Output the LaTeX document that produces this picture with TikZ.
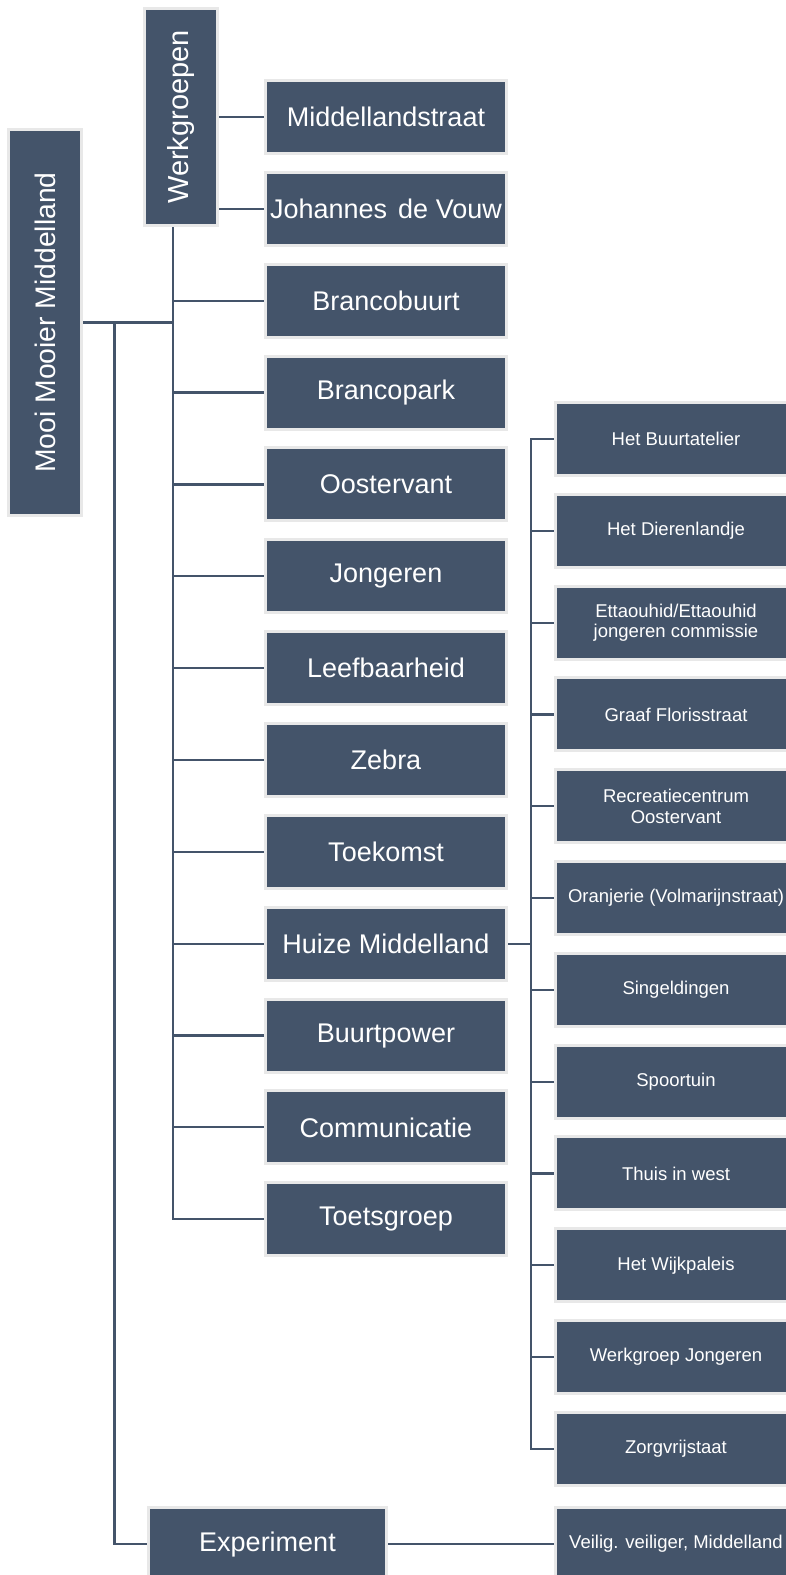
\documentclass[tikz,border=0pt]{standalone}
\usepackage{fontspec}
\setmainfont{Liberation Sans}
\usetikzlibrary{backgrounds,calc}
\definecolor{boxfill}{HTML}{44546A}
\definecolor{boxedge}{HTML}{E8E8E8}
\definecolor{linecol}{HTML}{44546A}
\begin{document}
\begin{tikzpicture}[x=1pt,y=-1pt,
  box/.style={fill=boxfill, draw=boxedge, line width=3pt, text=white, inner sep=0pt, align=center},
  big/.style={box, minimum width=241pt, minimum height=73pt, font=\fontsize{27}{32}\selectfont},
  small/.style={box, minimum width=241pt, minimum height=73pt, font=\fontsize{18.5}{20.5}\selectfont},
  conn/.style={draw=linecol, line width=2.2pt}]
\useasboundingbox (0,0) rectangle (786,1575);

% root and first level
\node[box, rotate=90, minimum width=386pt, minimum height=73pt, font=\fontsize{28.3}{32}\selectfont] (mooi) at (45,322.5) {Mooi Mooier Middelland};
\node[box, rotate=90, minimum width=217pt, minimum height=73pt, font=\fontsize{29}{32}\selectfont] (werk) at (181,117) {Werkgroepen};
\node[big, minimum width=238pt] (exp) at (267.5,1544) {Experiment};

% middle column
\foreach \t [count=\i from 0] in {Middellandstraat, {Johannes\hspace{11pt}de Vouw}, Brancobuurt, Brancopark, Oostervant, Jongeren, Leefbaarheid, Zebra, Toekomst, Huize Middelland, Buurtpower, Communicatie, Toetsgroep}
  \node[big] (m\i) at (386,117+91.85*\i) {\t};

% right column
\foreach \t [count=\i from 0] in {Het Buurtatelier, Het Dierenlandje, {Ettaouhid/Ettaouhid\\jongeren commissie}, Graaf Florisstraat, {Recreatiecentrum\\Oostervant}, Oranjerie (Volmarijnstraat), Singeldingen, Spoortuin, Thuis in west, Het Wijkpaleis, Werkgroep Jongeren, Zorgvrijstaat}
  \node[small] (r\i) at (676,439+91.8*\i) {\t};
\node[small] (veilig) at (676,1544) {Veilig. veiliger, Middelland};

\begin{scope}[on background layer]
  % Werkgroepen to its two side boxes
  \draw[conn] (m0.west) -- (m0.west -| werk.south);
  \draw[conn] (m1.west) -- (m1.west -| werk.south);
  % main trunk under Werkgroepen
  \coordinate (trunk) at ([xshift=-8pt]werk.west);
  \draw[conn] (trunk) |- (m12.west);
  \foreach \i in {2,...,11}
    \draw[conn] (m\i.west) -- (m\i.west -| trunk);
  % root connectors
  \draw[conn] (mooi.south) -- (mooi.south -| trunk);
  \coordinate (trunk2) at ([xshift=31.5pt]mooi.south);
  \draw[conn] (trunk2) |- (exp.west);
  % Huize Middelland children
  \coordinate (rtrunk) at ($(m9.east)!0.5!(r0.west)$);
  \draw[conn] (m9.east) -- (m9.east -| rtrunk);
  \draw[conn] (r0.west) -| (rtrunk) |- (r11.west);
  \foreach \i in {1,...,10}
    \draw[conn] (r\i.west) -- (r\i.west -| rtrunk);
  % Experiment child
  \draw[conn] (exp.east) -- (veilig.west);
\end{scope}
\end{tikzpicture}
\end{document}
